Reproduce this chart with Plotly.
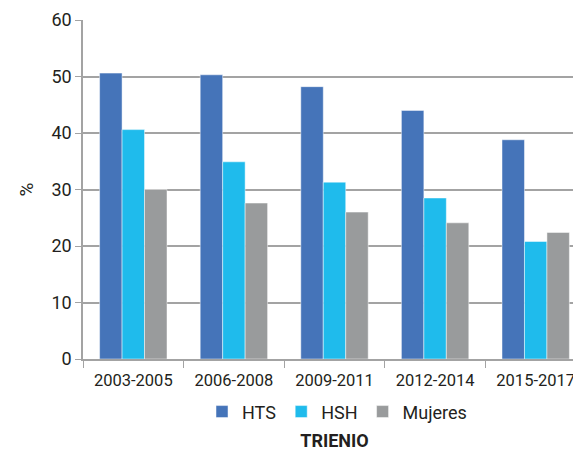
import plotly.graph_objects as go

# Data
trienios = ['2003-2005', '2006-2008', '2009-2011', '2012-2014', '2015-2017']
hts = [50.6, 50.3, 48.2, 44.0, 38.8]
hsh = [40.6, 34.9, 31.3, 28.5, 20.8]
mujeres = [30.0, 27.6, 26.0, 24.1, 22.4]

FONT = 'Roboto, Liberation Sans, sans-serif'
GRID = '#a3a3a3'

series = [
  ('HTS', hts, '#4574b9'),
  ('HSH', hsh, '#1fbbec'),
  ('Mujeres', mujeres, '#999b9c'),
]

fig = go.Figure()
for name, vals, color in series:
  fig.add_trace(go.Bar(
    x = trienios,
    y = vals,
    name = name,
    marker = dict(color = color, line = dict(color = 'rgba(255,255,255,0.6)', width = 0.8)),
  ))

# page has an 8px body margin, so margins are shifted to compensate
fig.update_layout(
  width = 581,
  height = 451,
  margin = dict(l = 75, r = 3, t = 12, b = 100),
  paper_bgcolor = 'white',
  plot_bgcolor = 'white',
  barmode = 'group',
  bargap = 0.33,
  bargroupgap = 0,
  font = dict(family = FONT, size = 18, color = '#231f20'),
  legend = dict(
    orientation = 'h',
    x = 0.505, xanchor = 'center',
    y = -0.156, yanchor = 'middle',
    font = dict(size = 18),
    itemwidth = 30,
    tracegroupgap = 0,
  ),
)

fig.update_xaxes(
  range = [-0.5, 4.5],
  automargin = False,
  tickangle = 0,
  tickfont = dict(size = 16.5),
  ticklabelstandoff = 5,
  showline = True, linecolor = GRID, linewidth = 1.5,
  ticks = 'outside', tickson = 'boundaries', ticklen = 7, tickcolor = GRID,
  showgrid = False,
  title = dict(text = '<b>TRIENIO</b>', standoff = 46, font = dict(size = 18)),
)

fig.update_yaxes(
  range = [0, 60],
  dtick = 10,
  automargin = False,
  showline = True, linecolor = GRID, linewidth = 1.5,
  ticks = 'outside', ticklen = 6, tickcolor = GRID,
  showgrid = True, gridcolor = GRID, gridwidth = 1.5,
  zeroline = False,
  title = dict(text = '%', standoff = 13, font = dict(size = 19)),
)

fig.write_html('out.html')
